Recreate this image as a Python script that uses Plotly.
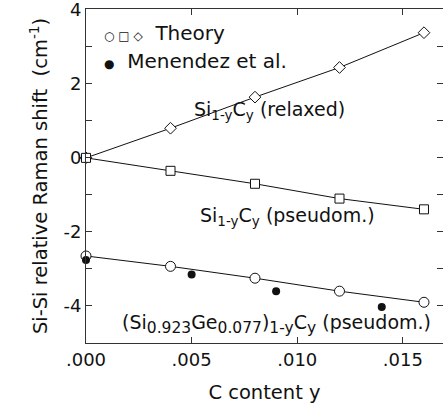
import plotly.graph_objects as go

# Carbon content (x) for the theory points
y_theory = [0.0, 0.004, 0.008, 0.012, 0.016]
# Si1-yCy relaxed (diamonds)
shift_relaxed = [0.0, 0.80, 1.64, 2.44, 3.38]
# Si1-yCy pseudomorphic (squares)
shift_pseudo = [0.0, -0.35, -0.70, -1.10, -1.39]
# (Si0.923Ge0.077)1-yCy pseudomorphic (open circles)
shift_sige = [-2.65, -2.93, -3.25, -3.60, -3.90]

# Experimental data, Menendez et al. (filled circles)
y_exp = [0.0, 0.005, 0.009, 0.014]
shift_exp = [-2.76, -3.15, -3.60, -4.03]

x_tickvals = [0.0, 0.005, 0.010, 0.015]
x_ticktext = [".000", ".005", ".010", ".015"]
y_tickvals = [-5, -4, -3, -2, -1, 0, 1, 2, 3, 4]
y_ticktext = ["", "-4", "", "-2", "", "0", "", "2", "", "4"]

FONT = "DejaVu Sans"
INK = "#111111"

fig = go.Figure()

def theory(xs, ys, symbol, size):
    fig.add_trace(go.Scatter(
        x=xs, y=ys, mode="lines+markers",
        line=dict(color=INK, width=1),
        marker=dict(symbol=symbol, size=size, color="white",
                    line=dict(color=INK, width=1)),
        showlegend=False, cliponaxis=False,
    ))

theory(y_theory, shift_relaxed, "diamond", 9)
theory(y_theory, shift_pseudo, "square", 9)
theory(y_theory, shift_sige, "circle", 10)

fig.add_trace(go.Scatter(
    x=y_exp, y=shift_exp, mode="markers",
    marker=dict(symbol="circle", size=8, color=INK, line=dict(width=0)),
    showlegend=False, cliponaxis=False,
))

axis_common = dict(
    showline=True, linecolor="#333333", linewidth=1, mirror="ticks",
    ticks="inside", ticklen=6, tickcolor="#333333", tickwidth=1,
    showgrid=False, zeroline=False, ticklabeloverflow="allow",
    tickfont=dict(family=FONT, size=18, color=INK),
)

fig.update_xaxes(
    range=[0, 0.0169], tickvals=x_tickvals, ticktext=x_ticktext,
    title=dict(text="C content y", font=dict(family=FONT, size=19.5, color=INK),
               standoff=16),
    **axis_common,
)
fig.update_yaxes(
    range=[-5, 4.02], tickvals=y_tickvals, ticktext=y_ticktext,
    title=dict(text="Si-Si relative Raman shift&nbsp;&nbsp;(cm<sup>-1</sup>)",
               font=dict(family=FONT, size=19.5, color=INK), standoff=10),
    **axis_common,
)

def label(x, y, text, size=19, anchor="left"):
    fig.add_annotation(x=x, y=y, xref="x", yref="y", text=text,
                       showarrow=False, xanchor=anchor, yanchor="middle",
                       font=dict(family=FONT, size=size, color=INK))

def sub(s, size):
    return f"<sub><span style='font-size:{size}px'>{s}</span></sub>"

label(0.0050, 1.28, f"Si{sub('1-y', 13.5)}C{sub('y', 13.5)} (relaxed)")
label(0.0053, -1.58, f"Si{sub('1-y', 13.5)}C{sub('y', 13.5)} (pseudom.)")
label(0.0016, -4.50,
      f"(Si{sub('0.923', 15.5)}Ge{sub('0.077', 15.5)}){sub('1-y', 15.5)}"
      f"C{sub('y', 15.5)} (pseudom.)")

# Key
label(0.00075, 3.38,
      "<span style='font-size:12px'>○ □ ◇</span>&nbsp;&nbsp;Theory", size=20)
label(0.00075, 2.62,
      "<span style='font-size:12px'>●</span>&nbsp;&nbsp;Menendez et al.", size=20)

fig.update_layout(
    width=443, height=404,
    margin=dict(l=86, r=0, t=9, b=61),
    paper_bgcolor="white", plot_bgcolor="white",
    font=dict(family=FONT, color=INK),
)

fig.write_html("out.html")
